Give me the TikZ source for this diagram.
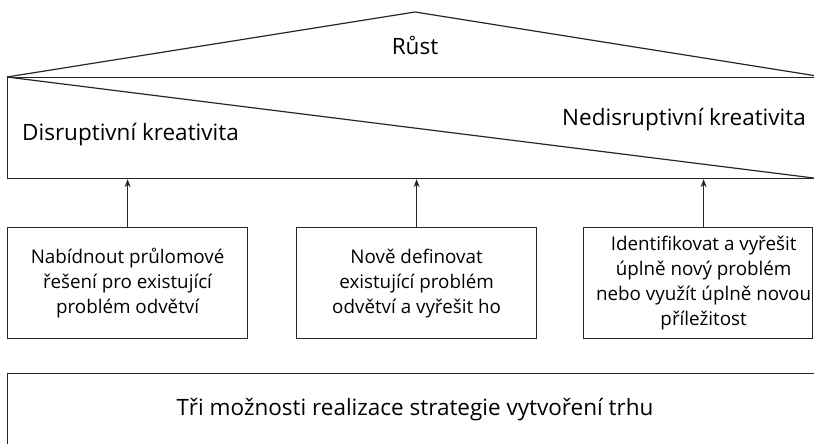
\documentclass[tikz,border=0pt]{standalone}
\usepackage{fontspec}
\setmainfont{Open Sans}
\usetikzlibrary{arrows.meta,positioning}
\begin{document}
\begin{tikzpicture}[x=1pt,y=-1pt,
        line/.style={draw=black!85,line width=1.2pt},
        frame/.style={line,rectangle,inner sep=0pt},
        choice/.style={frame,minimum height=111pt,align=center,font=\fontsize{18.8}{25}\selectfont},
        label/.style={inner sep=0pt,font=\fontsize{22.5}{25}\selectfont},
        push/.style={line,-{Stealth[length=8pt,width=6pt]}}]
        \useasboundingbox[clip] (0,0) rectangle (814,444);
        % Roof and creativity block
        \node[frame,minimum width=815pt,minimum height=101pt,anchor=north west] (block) at (7,77) {};
        \coordinate (apex) at (415,12);
        \draw[line,line join=miter] (block.north west) -- (apex) -- (block.north east);
        \draw[line] (block.north west) -- (block.south east);
        \node[label] (growth) at (415,45) {Růst};
        \node[label,anchor=west] (disrupt) at (22,135) {Disruptivní kreativita};
        \node[label,anchor=east] (nondisrupt) at (806,120) {Nedisruptivní kreativita};
        % Three options
        \node[choice,minimum width=240pt,anchor=north west] (opt1) at (7,227)
            {Nabídnout průlomové\\řešení pro existující\\problém odvětví};
        \node[choice,minimum width=240pt,anchor=north west] (opt2) at (296,227)
            {Nově definovat\\existující problém\\odvětví a vyřešit ho};
        \node[choice,minimum width=229pt,anchor=north west] (opt3) at (583,227)
            {\hspace*{11pt}Identifikovat a vyřešit\\\hspace*{11pt}úplně nový problém\\\hspace*{11pt}nebo využít úplně novou\\\hspace*{11pt}příležitost};
        \draw[push] (opt1.north) -- (opt1.north |- block.south);
        \draw[push] (opt2.north) -- (opt2.north |- block.south);
        \coordinate (opt3top) at ([xshift=5.5pt]opt3.north);
        \draw[push] (opt3top) -- (opt3top |- block.south);
        % Strategy base
        \node[frame,minimum width=815pt,minimum height=90pt,anchor=north west] (strategy) at (7,373) {};
        \node[label] (strategytext) at (415,410) {Tři možnosti realizace strategie vytvoření trhu};
\end{tikzpicture}
\end{document}
